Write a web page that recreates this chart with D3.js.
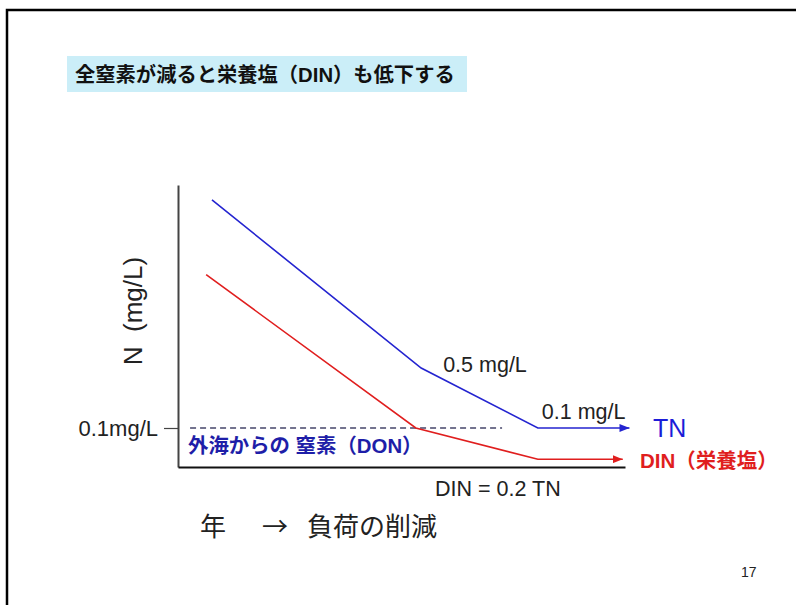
<!DOCTYPE html>
<html>
<head>
<meta charset="utf-8">
<script src="https://cdn.jsdelivr.net/npm/d3@7"></script>
<style>
  html, body { margin: 0; padding: 0; background: #fff; }
  svg { display: block; font-family: "Liberation Sans", Arial, "Noto Sans CJK JP", sans-serif; }
</style>
</head>
<body>
<svg id="chart" width="796" height="605"></svg>
<script>
// Total nitrogen (TN) and dissolved inorganic nitrogen (DIN) as the load is reduced
const loadSteps = ["start", "mid", "end"];
const tnX = [7.6, 54.4, 80.5];
const tnValues = [1.4, 0.5, 0.1];
const dinX = [6.3, 53.2, 80.5];
const dinValues = [1.0, 0.1, 0.02];
const tnArrowEnd = 101;
const dinArrowEnd = 99.5;
const donValue = 0.1;
const donX = [2.7, 72.5];
const yTickValues = [0.1];
const yTickLabels = ["0.1mg/L"];

const svg = d3.select("#chart");

// slide frame
svg.append("path")
  .attr("d", "M7,605 V10 H796")
  .attr("fill", "none").attr("stroke", "#000").attr("stroke-width", 2.5);

// title box
svg.append("rect").attr("x", 67).attr("y", 56).attr("width", 400).attr("height", 36)
  .attr("fill", "#cbeef8");
svg.append("text").attr("x", 75).attr("y", 82)
  .attr("font-size", 20.3).attr("font-weight", "bold").attr("fill", "#111")
  .text("全窒素が減ると栄養塩（DIN）も低下する");

// scales: value axis is schematic, stretched in the low range
const x = d3.scaleLinear().domain([0, 100]).range([178, 625]);
const y = d3.scaleLinear().domain([0, 0.1, 0.5, 1.48]).range([467, 428, 368, 185]);

// axes
const yAxis = d3.axisLeft(y).tickValues(yTickValues)
  .tickFormat((d, i) => yTickLabels[i]).tickSize(14).tickSizeOuter(0).tickPadding(6);
const gy = svg.append("g").attr("transform", `translate(${x(0)},0)`).call(yAxis);
gy.select(".domain").attr("stroke", "#444").attr("stroke-width", 2);
gy.selectAll(".tick line").attr("stroke", "#444").attr("stroke-width", 1.2);
gy.selectAll(".tick text").attr("font-size", 22).attr("fill", "#222")
  .attr("font-family", "Liberation Sans, Arial, sans-serif");

const xAxis = d3.axisBottom(x).tickValues([]).tickSizeOuter(0);
const gx = svg.append("g").attr("transform", `translate(0,${y(0)})`).call(xAxis);
gx.select(".domain").attr("stroke", "#111").attr("stroke-width", 2);

// arrow markers
const defs = svg.append("defs");
function marker(id, color) {
  defs.append("marker").attr("id", id)
    .attr("viewBox", "0 0 10 8").attr("refX", 10).attr("refY", 4)
    .attr("markerWidth", 10).attr("markerHeight", 8)
    .attr("markerUnits", "userSpaceOnUse").attr("orient", "auto")
    .append("path").attr("d", "M0,0 L10,4 L0,8 Z").attr("fill", color);
}
marker("arrowBlue", "#2424d0");
marker("arrowRed", "#e01e1e");

// DON level from the open sea
svg.append("line")
  .attr("x1", x(donX[0])).attr("x2", x(donX[1]))
  .attr("y1", y(donValue)).attr("y2", y(donValue))
  .attr("stroke", "#45456a").attr("stroke-width", 1.3).attr("stroke-dasharray", "6,4");

const line = d3.line().x(d => x(d[0])).y(d => y(d[1]));

const tnPts = tnX.map((v, i) => [v, tnValues[i]]);
tnPts.push([tnArrowEnd, tnValues[tnValues.length - 1]]);
const dinPts = dinX.map((v, i) => [v, dinValues[i]]);
dinPts.push([dinArrowEnd, dinValues[dinValues.length - 1]]);

svg.append("path").datum(tnPts).attr("d", line)
  .attr("fill", "none").attr("stroke", "#2424d0").attr("stroke-width", 1.6)
  .attr("marker-end", "url(#arrowBlue)");
svg.append("path").datum(dinPts).attr("d", line)
  .attr("fill", "none").attr("stroke", "#e01e1e").attr("stroke-width", 1.6)
  .attr("marker-end", "url(#arrowRed)");

// value labels on TN
svg.append("text").attr("x", x(tnX[1]) + 22).attr("y", y(tnValues[1]) + 4)
  .attr("font-size", 21.5).attr("fill", "#222").text("0.5 mg/L");
svg.append("text").attr("x", x(tnX[2]) + 4).attr("y", y(tnValues[2]) - 9)
  .attr("font-size", 21.5).attr("fill", "#222").text("0.1 mg/L");

// series labels
svg.append("text").attr("x", 653).attr("y", 437)
  .attr("font-size", 25).attr("fill", "#1c1cd8").text("TN");
svg.append("text").attr("x", 640).attr("y", 468)
  .attr("font-size", 20.5).attr("font-weight", "bold").attr("fill", "#e01e1e").text("DIN（栄養塩）");
svg.append("text").attr("x", 188).attr("y", 453)
  .attr("font-size", 20.4).attr("font-weight", "bold").attr("fill", "#1e1ea8").text("外海からの 窒素（DON）");
svg.append("text").attr("x", 435).attr("y", 496)
  .attr("font-size", 21.5).attr("fill", "#222").text("DIN = 0.2 TN");

// axis titles
svg.append("text").attr("transform", "translate(142,311) rotate(-90)")
  .attr("text-anchor", "middle").attr("font-size", 26).attr("fill", "#222")
  .attr("xml:space", "preserve").text("N  (mg/L)");
const xt = svg.append("text").attr("y", 536).attr("font-size", 26).attr("fill", "#222");
xt.append("tspan").attr("x", 200).text("年");
xt.append("tspan").attr("x", 262).attr("font-family", "Noto Sans CJK JP").text("→");
xt.append("tspan").attr("x", 307).text("負荷の削減");

// page number
svg.append("text").attr("x", 741).attr("y", 577).attr("font-size", 14).attr("fill", "#222").text("17");
</script>
</body>
</html>
